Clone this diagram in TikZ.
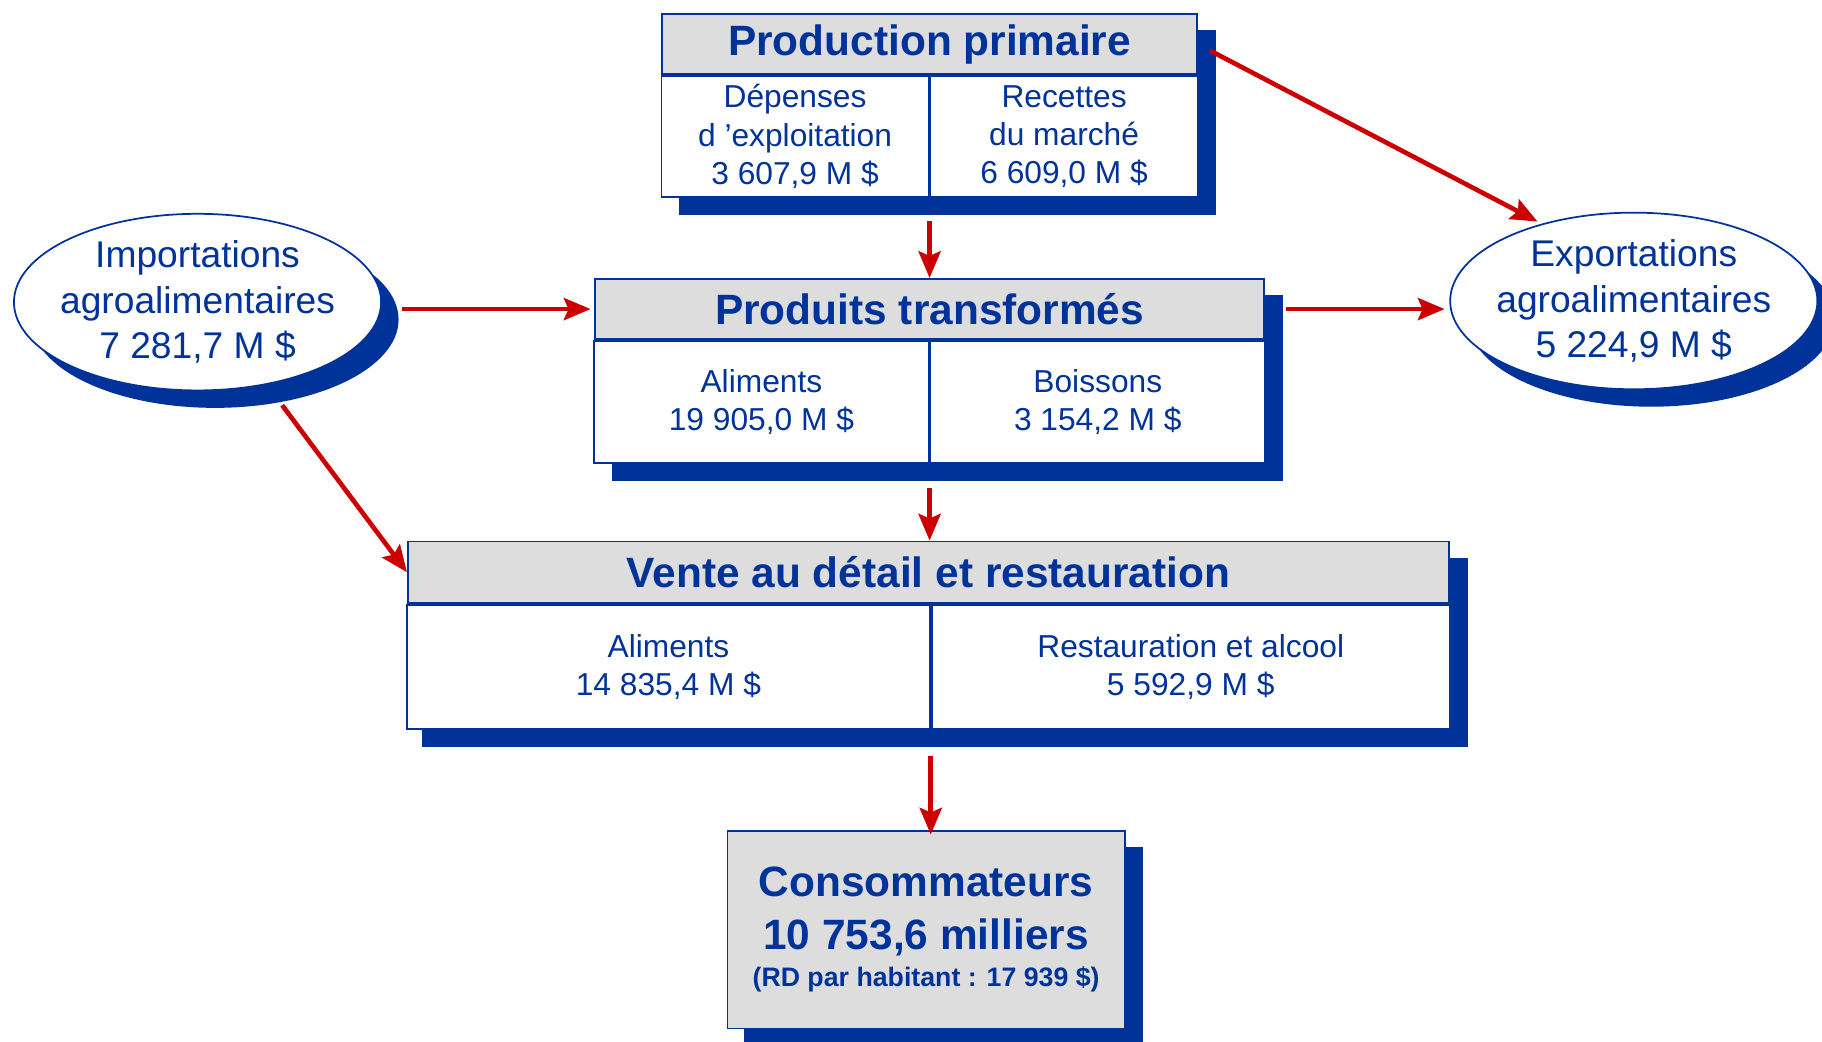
\documentclass[tikz,border=0pt]{standalone}
\usepackage{fontspec}
\setmainfont{Liberation Sans}
\usepackage{tikz}
\usetikzlibrary{arrows.meta,shapes,shadows,backgrounds}
\definecolor{dblue}{RGB}{0,51,153}
\definecolor{hgray}{RGB}{221,221,221}
\definecolor{fred}{RGB}{204,0,0}

\begin{document}
\begin{tikzpicture}
[x=1pt,y=-1pt]
\tikzset{
	shade/.style = {drop shadow={shadow xshift=15pt,shadow yshift=-15pt,fill=dblue,opacity=1}},
	back/.style = {fill=dblue},
	cell/.style = {rectangle, draw=dblue, line width=1.5pt, fill=white, text=dblue, align=center, inner sep=0pt, font=\fontsize{27.3}{33}\selectfont},
	head/.style = {cell, fill=hgray, font=\fontsize{36.5}{45}\selectfont\bfseries},
	oval/.style = {ellipse, draw=dblue, line width=1.5pt, fill=white, text=dblue, align=center, shade, minimum width=316pt, minimum height=152pt, inner xsep=-8pt, inner ysep=0pt, font=\fontsize{32}{39}\selectfont},
	flow/.style = {draw=fred, line width=4pt, -{Stealth[length=23pt,width=19pt,inset=4pt]}}
}
\useasboundingbox (0,0) rectangle (1568,896);

\node(pp) [head, minimum width=460pt, minimum height=52pt] at (800,38) {Production primaire};
\node(pp-l) [cell, minimum width=230pt, minimum height=104pt, anchor=north east] at (pp.south) {Dépenses\\d ’exploitation\\3 607,9 M \$};
\node(pp-r) [cell, minimum width=230pt, minimum height=104pt, anchor=north west] at (pp.south) {Recettes\\du marché\\6 609,0 M \$};

\node(pt) [head, minimum width=576pt, minimum height=52pt] at (800,266) {Produits transformés};
\node(pt-l) [cell, minimum width=288pt, minimum height=105pt, anchor=north east] at (pt.south) {Aliments\\19 905,0 M \$};
\node(pt-r) [cell, minimum width=288pt, minimum height=105pt, anchor=north west] at (pt.south) {Boissons\\3 154,2 M \$};

\node(vr) [head, minimum width=896pt, minimum height=53pt] at (799,492.5) {Vente au détail et restauration};
\node(vr-l) [cell, minimum width=450pt, minimum height=107pt, anchor=north east] at ([xshift=2pt]vr.south) {Aliments\\14 835,4 M \$};
\node(vr-r) [cell, minimum width=446pt, minimum height=107pt, anchor=north west] at ([xshift=2pt]vr.south) {Restauration et alcool\\5 592,9 M \$};

\node(cons) [head, minimum width=342pt, minimum height=170pt] at (797,800) {Consommateurs\\10 753,6 milliers\\[-13pt]{\fontsize{23}{28}\selectfont (RD par habitant : 17 939 \$)}};

\node(imp) [oval] at (170,260) {Importations\\agroalimentaires\\7 281,7 M \$};
\node(exp) [oval] at (1406,259) {Exportations\\agroalimentaires\\5 224,9 M \$};

\begin{scope}[on background layer]
\fill[back] ([xshift=15pt,yshift=-15pt]pp.north west) rectangle ([xshift=15pt,yshift=-15pt]pp-r.south east);
\fill[back] ([xshift=15pt,yshift=-15pt]pt.north west) rectangle ([xshift=15pt,yshift=-15pt]pt-r.south east);
\fill[back] ([xshift=13pt,yshift=-15pt]vr.north west) rectangle ([xshift=15pt,yshift=-15pt]vr-r.south east);
\fill[back] ([xshift=15pt,yshift=-15pt]cons.north west) rectangle ([xshift=15pt,yshift=-15pt]cons.south east);
\end{scope}

\draw[flow, shorten <=12pt, shorten >=4pt] (pp.east) -- (exp.140);
\draw[flow, shorten <=20pt] (pp-l.south east) -- (pt.north);
\draw[flow, shorten <=17pt, shorten >=3pt] (imp.east |- pt.west) -- (pt.west);
\draw[flow, shorten <=18pt, shorten >=4pt] (pt.east) -- (exp.west |- pt.east);
\draw[flow, shorten <=22pt] (imp.-50) -- (vr.west);
\draw[flow, shorten <=21pt] (pt-l.south east) -- (pt-l.south east |- vr.north);
\draw[flow, shorten <=22pt, shorten >=-4pt] (vr-l.south east) -- (vr-l.south east |- cons.north);
\end{tikzpicture}
\end{document}
